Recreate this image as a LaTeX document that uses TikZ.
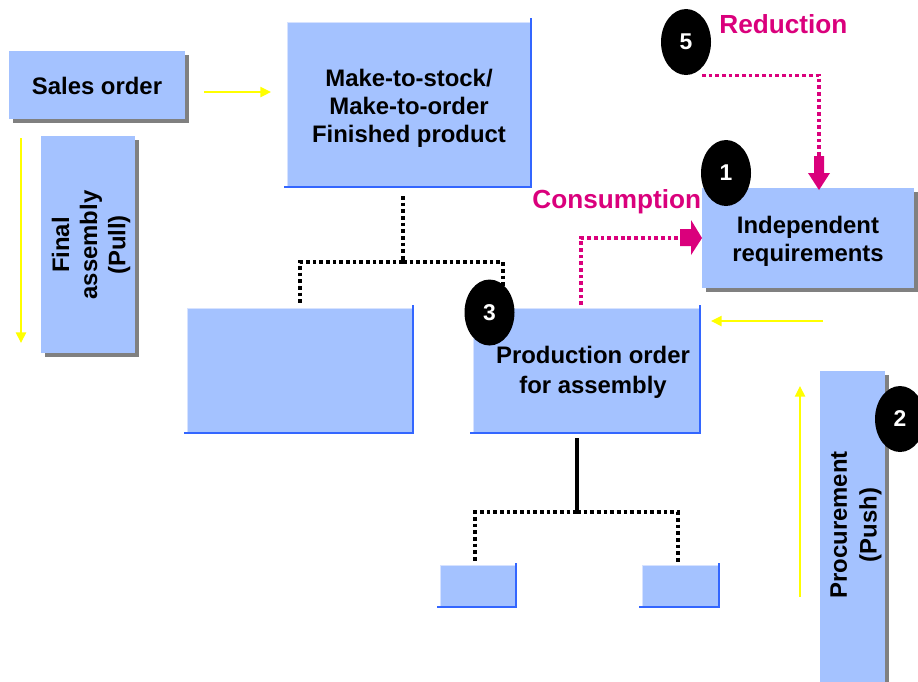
\documentclass[tikz,border=0pt]{standalone}
\usepackage{fontspec}
\setmainfont{Liberation Sans}
\usetikzlibrary{shapes.geometric,shadows,arrows.meta}

\definecolor{boxblue}{RGB}{164,194,255}
\definecolor{edgeblue}{RGB}{51,102,255}
\definecolor{lightedge}{RGB}{214,226,255}
\definecolor{shadowgray}{RGB}{128,128,128}
\definecolor{magentared}{RGB}{218,0,124}
\definecolor{arrowyellow}{RGB}{255,255,0}

\begin{document}
\begin{tikzpicture}[x=0.02cm, y=-0.02cm,
  box/.style={fill=boxblue, inner sep=0pt, outer sep=0pt, align=center,
    font=\bfseries\fontsize{13.6}{16}\selectfont},
  shadowbox/.style={box, drop shadow={shadow xshift=0.08cm, shadow yshift=-0.08cm,
    fill=shadowgray, opacity=1}},
  bevelbox/.style={box, draw=lightedge, line width=0.4pt},
  bevel/.style={draw=edgeblue, line width=1.6pt},
  txt/.style={inner sep=0pt, align=center, font=\bfseries\fontsize{13.6}{16}\selectfont},
  badge/.style={ellipse, fill=black, minimum width=1cm, minimum height=1.32cm,
    inner sep=0pt, text=white, font=\bfseries\fontsize{13}{13}\selectfont},
  flowlabel/.style={inner sep=0pt, text=magentared,
    font=\bfseries\fontsize{14.9}{17}\selectfont},
  yarrow/.style={draw=arrowyellow, line width=0.75pt,
    -{Triangle[length=6pt, width=5.8pt]}},
  treedot/.style={draw=black, line width=1.8pt, dash pattern=on 2.1pt off 1.7pt},
  treeline/.style={draw=black, line width=1.8pt},
  magdot/.style={draw=magentared, line width=1.8pt, dash pattern=on 2.1pt off 1.7pt},
]
\useasboundingbox (0,0) rectangle (918,681);

% ---- boxes ----
\node[shadowbox, minimum width=3.52cm, minimum height=1.36cm] (sales) at (97,85) {};
\node[txt] (salestext) at (97,86) {Sales order};
\node[shadowbox, minimum width=1.88cm, minimum height=4.34cm] (final) at (88,244.5) {};
\node[txt, rotate=90] (finaltext) at (91,245) {Final\\assembly\\(Pull)};

\node[bevelbox, minimum width=4.88cm, minimum height=3.3cm] (make) at (409,104.5) {};
\node[txt] (maketext) at (409,108.5) {Make-to-stock/\\Make-to-order\\Finished product};
\draw[bevel] ([xshift=-0.06cm]make.south west) -- (make.south east) -- ([yshift=0.08cm]make.north east);

\node[shadowbox, minimum width=4.24cm, minimum height=2cm] (indep) at (808,238) {};
\node[txt] (indeptext) at (808,241) {Independent\\requirements};

\node[bevelbox, minimum width=4.52cm, minimum height=2.5cm] (empty) at (300,370.5) {};
\draw[bevel] ([xshift=-0.06cm]empty.south west) -- (empty.south east) -- ([yshift=0.06cm]empty.north east);

\node[bevelbox, minimum width=4.54cm, minimum height=2.5cm] (prod) at (586.5,370.5) {};
\node[txt, font=\bfseries\fontsize{13.6}{17}\selectfont] (prodtext) at (593,372) {Production order\\for assembly};
\draw[bevel] ([xshift=-0.06cm]prod.south west) -- (prod.south east) -- ([yshift=0.06cm]prod.north east);

\node[bevelbox, minimum width=1.52cm, minimum height=0.84cm] (leafa) at (478,586) {};
\draw[bevel] ([xshift=-0.06cm]leafa.south west) -- (leafa.south east) -- ([yshift=0.04cm]leafa.north east);
\node[bevelbox, minimum width=1.54cm, minimum height=0.84cm] (leafb) at (680.5,586) {};
\draw[bevel] ([xshift=-0.06cm]leafb.south west) -- (leafb.south east) -- ([yshift=0.04cm]leafb.north east);

\node[shadowbox, minimum width=1.3cm, minimum height=6.38cm] (proc) at (852.5,530.5) {};
\node[txt, rotate=90, font=\bfseries\fontsize{13.6}{17}\selectfont] (proctext) at (856,525) {Procurement\\(Push)};

% ---- structure lines ----
\coordinate (mtop) at (403,196);
\coordinate (mjoin) at (403,262);
\coordinate (mright) at (503,292);
\draw[treedot] (mtop) -- (mjoin);
\draw[treedot] (mjoin) -| ([yshift=0.1cm]empty.north);
\draw[treedot] (mjoin) -| (mright);

\coordinate (ptop) at (577,438);
\coordinate (pjoin) at (577,512);
\draw[treeline] (ptop) -- (pjoin);
\draw[treedot] (pjoin) -| ([xshift=-0.06cm, yshift=0.04cm]leafa.north);
\draw[treedot] (pjoin) -| ([xshift=-0.05cm, yshift=0.06cm]leafb.north);

% ---- direction arrows ----
\coordinate (salesA) at (204,92);
\coordinate (salesB) at (271,92);
\draw[yarrow] (salesA) -- (salesB);
\coordinate (pullA) at (21,138);
\coordinate (pullB) at (21,343);
\draw[yarrow] (pullA) -- (pullB);
\coordinate (pushA) at (800,597);
\coordinate (pushB) at (800,386);
\draw[yarrow] (pushA) -- (pushB);
\coordinate (reqA) at (823,321);
\coordinate (reqB) at (711,321);
\draw[yarrow] (reqA) -- (reqB);

% ---- badges ----
\node[badge] (n1) at (726,173) {1};
\node[badge] (n5) at (686,42) {5};
\node[badge] (n3) at (489.5,312.5) {3};
\node[badge] (n2) at (900,419) {2};

% ---- consumption / reduction flows ----
\draw[magdot] ([xshift=-0.11cm, yshift=0.06cm]prod.north) |- ([xshift=-0.44cm]indep.west);
\fill[magentared] (indep.west) -- ++(-11,-18) -- ++(0,9) -- ++(-11,0) -- ++(0,17)
  -- ++(11,0) -- ++(0,9) -- cycle;
\node[flowlabel, anchor=base west] (conslabel) at (532,208) {Consumption};

\coordinate (redtip) at (819,190);
\draw[magdot] ([xshift=0.32cm]n5.south) -| ([yshift=0.68cm]redtip);
\fill[magentared] (redtip) -- ++(-11,-17) -- ++(6,0) -- ++(0,-17) -- ++(10,0)
  -- ++(0,17) -- ++(6,0) -- cycle;
\node[flowlabel, anchor=base west] (redlabel) at (719,33) {Reduction};
\end{tikzpicture}
\end{document}
